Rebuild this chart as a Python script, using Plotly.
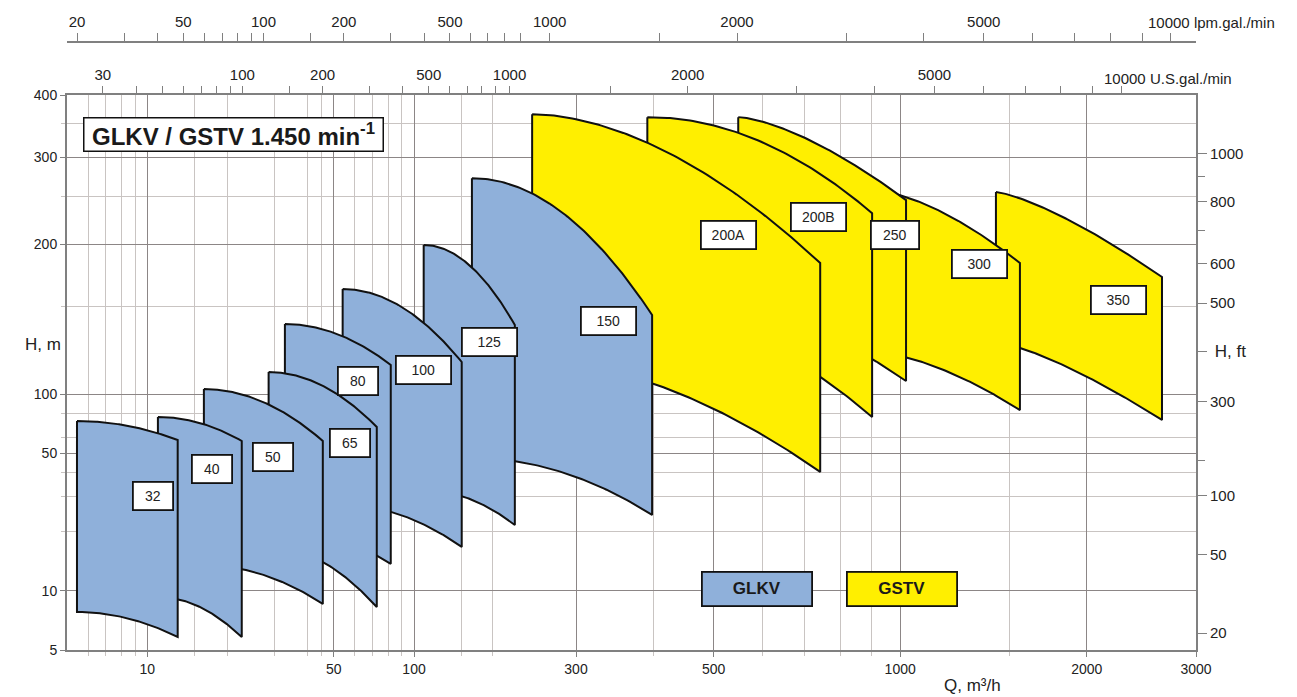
import numpy as np
import plotly.graph_objects as go

# ---------------- data ----------------
pumps = ["32", "40", "50", "65", "80", "100", "125", "150",
         "200A", "200B", "250", "300", "350"]
series = ["GLKV"] * 8 + ["GSTV"] * 5
# operating field of each pump size: flow limits (m3/h) and head at the limits (m)
q_min = [5.45, 10.96, 16.3, 28.5, 32.8, 54.0, 108.7, 166.0, 256.0, 391.0, 548.0, 904.0, 1427.0]
q_max = [13.0, 22.6, 45.5, 72.5, 81.8, 151.0, 236.0, 398.0, 743.0, 901.0, 1022.0, 1560.0, 2644.0]
h_top_left = [72.9, 76.4, 102.3, 110.7, 138.3, 162.7, 199.5, 272.0, 366.0, 361.0, 361.0, 257.0, 255.0]
h_top_right = [58.4, 57.7, 57.7, 68.0, 114.4, 116.0, 137.7, 144.2, 183.5, 231.3, 245.7, 183.5, 172.0]
h_bot_left = [7.80, 9.30, 13.5, 16.7, 20.4, 27.3, 32.5, 47.3, 117.0, 141.6, 151.7, 121.5, 127.2]
h_bot_right = [5.82, 5.82, 8.57, 8.27, 13.7, 16.7, 21.6, 24.3, 40.2, 76.4, 106.2, 82.9, 73.8]

q_ticks = [10, 50, 100, 300, 500, 1000, 2000, 3000]          # m3/h
h_ticks = [5, 10, 50, 100, 200, 300, 400]                     # m
ft_ticks = [20, 50, 100, 300, 500, 600, 800, 1000]            # ft
ft_minor = [150, 700, 900]
igpm_ticks = [20, 30, 40, 50, 60, 70, 80, 90, 100, 150, 200, 300, 400, 500, 600, 700,
              800, 900, 1000, 1500, 2000, 3000, 4000, 5000, 6000, 7000, 8000, 9000, 10000]
igpm_labelled = [20, 50, 100, 200, 500, 1000, 2000, 5000]
usgpm_ticks = [30, 40, 50, 60, 70, 80, 90, 100, 150, 200, 300, 400, 500, 600, 700, 800,
               900, 1000, 1500, 2000, 3000, 4000, 5000, 6000, 7000, 8000, 9000, 10000]
usgpm_labelled = [30, 100, 200, 500, 1000, 2000, 5000]
q_grid = [6, 7, 8, 9, 15, 20, 30, 40, 45, 60, 70, 80, 90, 150, 200, 400, 600, 700, 800, 900, 1500]
h_grid = [20, 30, 40, 60, 80, 150, 250, 350]

M3H_PER_IGPM = 1 / 3.666
M3H_PER_USGPM = 1 / 4.403
M_PER_FT = 0.3048

# ---------------- layout / style ----------------
# the printed chart uses a piecewise-logarithmic scale on both axes
X_KNOTS_Q = [5, 150, 200, 245, 300, 3000]
X_KNOTS_U = [0, 394, 425, 453, 509, 1129]
Y_KNOTS_H = [5, 100, 400]
Y_KNOTS_U = [0, 256, 555]


def qx(q):
    return np.interp(np.log10(np.asarray(q, float)), np.log10(X_KNOTS_Q), X_KNOTS_U)


def hy(h):
    return np.interp(np.log10(np.asarray(h, float)), np.log10(Y_KNOTS_H), Y_KNOTS_U)


# bow of the drawn limit curves (exponent of the outline arc)
CURVE_BOW = {"200A": 1.8, "200B": 2.0, "250": 1.5, "300": 1.6, "350": 1.35}
LABEL_POS = {"32": (10.5, 30.3), "40": (17.5, 41.6), "50": (29.5, 47.9), "65": (57.4, 56.4),
             "80": (61.5, 106.2), "100": (108.7, 111.8), "125": (196.3, 127.2),
             "150": (339, 140.3), "200A": (529.5, 208.9), "200B": (739.6, 227.0),
             "250": (980.8, 208.9), "300": (1345, 182.6), "350": (2253, 154.6)}
LABEL_W = {"32": 41, "40": 41, "50": 41, "65": 41, "80": 41, "250": 49}
COLORS = {"GLKV": "#8FB0DA", "GSTV": "#FFEF00"}
FONT = "Liberation Sans, Arial, sans-serif"
FRAME = "#808080"
GRID_MAJOR = "#8c8686"
GRID_MINOR = "#c9c4c2"

W, H = 1297, 697
ML, MR, MT, MB = 67, 101, 20, 47
XR = [qx(5), qx(3000)]
YR = [hy(5), hy(400)]
PW = W - ML - MR
PH = H - MT - MB
YDOM_TOP = (YR[1] - YR[0]) / PH


def px(xpix):
    return (xpix - ML) / PW


def py(ypix):
    return (PH - (ypix - MT)) / PH


fig = go.Figure()

# pump fields, largest first so smaller sizes lie on top
for i in range(len(pumps) - 1, -1, -1):
    t = np.linspace(0, 1, 80)
    k = CURVE_BOW.get(pumps[i], 2.0)
    x0, x1 = qx(q_min[i]), qx(q_max[i])
    yt0, yt1 = hy(h_top_left[i]), hy(h_top_right[i])
    yb0, yb1 = hy(h_bot_left[i]), hy(h_bot_right[i])
    xs = x0 + (x1 - x0) * t
    top = yt0 + (yt1 - yt0) * t ** k
    bot = yb0 + (yb1 - yb0) * t ** k
    X = np.concatenate([xs, xs[::-1], xs[:1]])
    Y = np.concatenate([top, bot[::-1], top[:1]])
    fig.add_trace(go.Scatter(x=X, y=Y, mode="lines", fill="toself",
                             fillcolor=COLORS[series[i]],
                             line=dict(color="#111111", width=2),
                             name=pumps[i], showlegend=False, hoverinfo="name"))

# invisible anchors for the secondary axes
fig.add_trace(go.Scatter(x=XR, y=YR, xaxis="x2", yaxis="y", mode="markers",
                         marker=dict(opacity=0), showlegend=False, hoverinfo="skip"))
fig.add_trace(go.Scatter(x=XR, y=YR, xaxis="x3", yaxis="y", mode="markers",
                         marker=dict(opacity=0), showlegend=False, hoverinfo="skip"))
fig.add_trace(go.Scatter(x=XR, y=YR, xaxis="x", yaxis="y2", mode="markers",
                         marker=dict(opacity=0), showlegend=False, hoverinfo="skip"))

ann = []
for p in pumps:
    q, h = LABEL_POS[p]
    w = LABEL_W.get(p, 56)
    ann.append(dict(x=float(qx(q)), y=float(hy(h)), xref="x", yref="y", text=p,
                    xanchor="center", yanchor="middle",
                    showarrow=False, font=dict(family=FONT, size=14, color="#222"),
                    bgcolor="white", bordercolor="#111", borderwidth=1.8, borderpad=1,
                    width=w - 5, height=24))

# title box
ann.append(dict(x=px(83), y=py(117), xref="paper", yref="paper",
                xanchor="left", yanchor="top", showarrow=False,
                text="<b>GLKV / GSTV 1.450 min<sup>-1</sup></b>",
                font=dict(family=FONT, size=24, color="#1a1a1a"),
                bgcolor="white", bordercolor="#111", borderwidth=1.5, borderpad=1,
                width=296, height=30))
# legend boxes
for name, xc in (("GLKV", 756.5), ("GSTV", 902.0)):
    ann.append(dict(x=px(xc), y=py(588.5), xref="paper", yref="paper",
                    xanchor="center", yanchor="middle", showarrow=False,
                    text="<b>%s</b>" % name,
                    font=dict(family=FONT, size=17, color="#1a1a1a"),
                    bgcolor=COLORS[name], bordercolor="#111", borderwidth=1.8, borderpad=1,
                    width=106, height=30))
# axis titles
ann.append(dict(x=px(63), y=py(345), xref="paper", yref="paper",
                xanchor="right", yanchor="middle", showarrow=False, text="H, m",
                font=dict(family=FONT, size=17, color="#222")))
ann.append(dict(x=px(972), y=py(685), xref="paper", yref="paper",
                xanchor="center", yanchor="middle", showarrow=False, text="Q, m³/h",
                font=dict(family=FONT, size=17, color="#222")))
ann.append(dict(x=float(qx(10000 * M3H_PER_IGPM)), y=py(42), xref="x3", yref="paper",
                xanchor="left", yanchor="middle", xshift=-24, yshift=19, showarrow=False,
                text="10000 lpm.gal./min", font=dict(family=FONT, size=15, color="#222")))
ann.append(dict(x=float(qx(10000 * M3H_PER_USGPM)), y=YDOM_TOP, xref="x2", yref="paper",
                xanchor="left", yanchor="middle", xshift=-19, yshift=17, showarrow=False,
                text="10000 U.S.gal./min", font=dict(family=FONT, size=15, color="#222")))

tickfont = dict(family=FONT, size=14, color="#222")
tickfont15 = dict(family=FONT, size=15, color="#222")

fig.update_layout(
    width=W, height=H, margin=dict(l=ML, r=MR, t=MT, b=MB, autoexpand=False),
    paper_bgcolor="white", plot_bgcolor="white",
    font=dict(family=FONT, color="#222"),
    showlegend=False, annotations=ann,
    xaxis=dict(range=XR, tickmode="array", tickvals=qx(q_ticks).tolist(),
               ticktext=[str(v) for v in q_ticks], tickfont=tickfont,
               ticks="outside", ticklen=5, tickcolor=FRAME, automargin=False,
               showgrid=True, gridcolor=GRID_MAJOR, gridwidth=1.2,
               showline=True, linecolor=FRAME, linewidth=2, mirror=True, zeroline=False,
               minor=dict(tickmode="array", tickvals=qx(q_grid).tolist(), showgrid=True,
                          gridcolor=GRID_MINOR, gridwidth=1, ticks="outside", ticklen=4,
                          tickcolor=GRID_MINOR)),
    xaxis2=dict(range=XR, overlaying="x", side="top", anchor="y", automargin=False,
                tickmode="array", tickvals=qx(np.array(usgpm_ticks) * M3H_PER_USGPM).tolist(),
                ticktext=[str(v) if v in usgpm_labelled else "" for v in usgpm_ticks],
                tickfont=tickfont15, ticks="outside", ticklen=8, tickcolor=FRAME,
                showgrid=False, showline=False, zeroline=False),
    xaxis3=dict(range=XR, overlaying="x", side="top", anchor="free", position=py(42),
                automargin=False,
                tickmode="array", tickvals=qx(np.array(igpm_ticks) * M3H_PER_IGPM).tolist(),
                ticktext=[str(v) if v in igpm_labelled else "" for v in igpm_ticks],
                tickfont=tickfont15, ticks="outside", ticklen=8, tickcolor=FRAME,
                showgrid=False, showline=True, linecolor=FRAME, linewidth=2, zeroline=False),
    yaxis=dict(range=YR, domain=[0, YDOM_TOP], tickmode="array", tickvals=hy(h_ticks).tolist(),
               ticktext=[str(v) for v in h_ticks], tickfont=tickfont, automargin=False,
               ticks="outside", ticklen=5, tickcolor=FRAME,
               showgrid=True, gridcolor=GRID_MAJOR, gridwidth=1.2,
               showline=True, linecolor=FRAME, linewidth=2, mirror=True, zeroline=False,
               minor=dict(tickmode="array", tickvals=hy(h_grid).tolist(), showgrid=True,
                          gridcolor=GRID_MINOR, gridwidth=1, ticks="outside", ticklen=4,
                          tickcolor=GRID_MINOR)),
    yaxis2=dict(range=YR, overlaying="y", side="right", anchor="x", automargin=False,
                tickmode="array",
                tickvals=hy(np.array(ft_ticks + [400]) * M_PER_FT).tolist(),
                ticktext=[str(v) for v in ft_ticks] + ["<span style='font-size:17px'> H, ft</span>"],
                tickfont=tickfont15, ticks="outside", ticklen=9, tickcolor=FRAME,
                showgrid=False, showline=True, linecolor=FRAME, linewidth=2, zeroline=False,
                minor=dict(tickmode="array", tickvals=hy(np.array(ft_minor) * M_PER_FT).tolist(),
                           ticks="outside", ticklen=7, tickcolor=FRAME, showgrid=False)),
)

fig.write_html("out.html", config={"displayModeBar": False},
               post_script="document.body.style.margin='0';document.body.style.overflow='hidden';")
